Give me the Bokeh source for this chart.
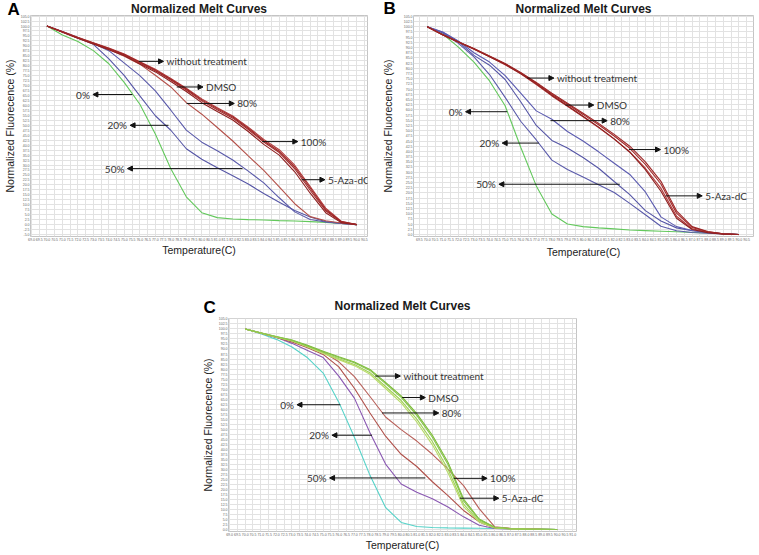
from bokeh.plotting import figure
from bokeh.models import (Arrow, NormalHead, Label, FixedTicker, Range1d, Spacer,
                          NumeralTickFormatter, Title)
from bokeh.layouts import column, row
from bokeh.embed import file_html
from bokeh.resources import INLINE

# ---------------- data ----------------
temperature = [70, 71, 72, 73, 74, 75, 76, 77, 78, 79, 80,
               81, 82, 83, 84, 85, 86, 87, 88, 89, 90]
x_ticks = [69 + 0.5 * i for i in range(45)]
y_ticks = [-5 + 2.5 * i for i in range(45)]
title_text = "Normalized Melt Curves"
x_title = "Temperature(C)"
y_title = "Normalized Fluorecence (%)"

# Panel A
a_zero = [100, 95.5, 92.2, 87.6, 81.0, 71.5, 60.6, 45.6, 28.1, 14.0, 6.0, 3.5, 2.8, 2.5, 2.3, 2.0, 1.8, 1.5, 1.1, 0.6, 0.0]
a_twenty = [100, 97.1, 94.0, 90.8, 83.5, 75.0, 64.8, 54.8, 47.5, 38.2, 32.9, 28.6, 24.6, 20.4, 15.7, 11.2, 7.1, 3.8, 1.5, 0.6, 0.0]
a_fifty = [100, 97.2, 94.2, 91.2, 87.6, 81.3, 75.0, 67.3, 57.6, 47.6, 41.5, 37.2, 32.5, 26.9, 21.0, 13.5, 6.4, 2.6, 1.3, 0.6, 0.0]
a_eighty = [100, 97.0, 93.9, 91.0, 88.2, 84.8, 80.8, 75.2, 69.3, 61.4, 55.6, 48.9, 42.1, 34.6, 27.3, 19.0, 10.5, 4.0, 1.9, 0.8, 0.0]
a_without = [100, 97.0, 94.0, 91.3, 88.5, 85.4, 81.4, 77.5, 72.8, 67.8, 62.3, 57.8, 53.6, 47.9, 41.6, 36.3, 28.1, 17.3, 7.0, 1.3, 0.0]
a_dmso = [100, 97.2, 94.3, 91.6, 88.9, 85.9, 82.0, 78.2, 73.6, 68.7, 63.3, 58.8, 54.7, 49.1, 42.9, 37.7, 29.9, 19.1, 8.3, 1.7, 0.0]
a_hundred = [100, 96.9, 93.8, 91.0, 88.1, 85.0, 80.9, 76.9, 72.1, 67.0, 61.4, 57.0, 52.7, 46.9, 40.4, 35.0, 26.6, 15.8, 6.0, 1.0, 0.0]
a_aza = [100, 97.1, 94.1, 91.4, 88.7, 85.6, 81.7, 77.8, 73.2, 68.3, 62.8, 58.4, 54.2, 48.5, 42.2, 36.9, 29.0, 18.3, 7.6, 1.5, 0.0]

# Panel B
b_zero = [100, 96.5, 90.2, 83.0, 73.9, 62.0, 42.0, 23.4, 9.9, 5.1, 3.8, 3.2, 2.7, 2.2, 1.9, 1.6, 1.3, 1.0, 0.7, 0.4, 0.0]
b_twenty = [100, 97.0, 92.0, 85.5, 77.0, 66.0, 54.5, 45.5, 35.8, 31.3, 27.7, 24.0, 20.2, 15.0, 9.5, 4.0, 1.8, 1.0, 0.6, 0.3, 0.0]
b_fifty = [100, 97.3, 92.8, 86.2, 81.5, 74.6, 63.9, 52.5, 45.3, 41.6, 37.1, 31.9, 25.5, 19.2, 11.5, 6.5, 3.2, 1.8, 1.0, 0.4, 0.0]
b_eighty = [100, 97.5, 93.2, 87.5, 83.0, 76.5, 68.0, 59.5, 55.5, 49.6, 45.0, 39.8, 34.3, 28.9, 20.5, 8.5, 3.8, 1.9, 1.0, 0.4, 0.0]
b_without = [100, 96.1, 92.7, 89.4, 85.8, 82.1, 77.8, 72.9, 67.5, 62.7, 57.8, 52.8, 47.4, 41.5, 33.8, 24.3, 10.3, 3.4, 1.3, 0.3, 0.0]
b_dmso = [100, 96.0, 92.5, 89.2, 85.5, 81.7, 77.3, 72.2, 66.7, 61.7, 56.6, 51.5, 45.9, 39.8, 31.9, 22.2, 8.8, 2.8, 1.1, 0.3, 0.0]
b_hundred = [100, 96.0, 92.6, 89.3, 85.6, 81.9, 77.5, 72.5, 67.0, 62.0, 56.9, 51.7, 46.0, 39.6, 31.2, 20.8, 7.8, 2.4, 0.9, 0.2, 0.0]
b_aza = [100, 96.2, 92.8, 89.5, 85.9, 82.3, 78.0, 73.2, 68.0, 63.2, 58.4, 53.5, 48.2, 42.5, 35.0, 25.6, 11.4, 3.8, 1.4, 0.4, 0.0]

# Panel C
c_zero = [100, 97.6, 94.8, 91.0, 85.6, 78.0, 63.5, 46.0, 27.0, 11.0, 3.5, 1.5, 1.0, 0.8, 0.7, 0.6, 0.5, 0.4, 0.3, 0.2, 0.0]
c_twenty = [100, 98.0, 95.8, 92.8, 89.3, 85.7, 76.5, 65.5, 48.2, 32.6, 22.7, 18.6, 15.3, 11.2, 6.3, 2.1, 0.5, 0.3, 0.2, 0.1, 0.0]
c_fifty = [100, 97.9, 95.7, 93.5, 90.6, 87.3, 81.1, 70.4, 58.1, 46.5, 37.5, 31.4, 23.8, 16.9, 9.5, 3.8, 0.8, 0.4, 0.2, 0.1, 0.0]
c_eighty = [100, 98.0, 95.9, 94.0, 91.6, 88.5, 83.6, 76.2, 66.3, 56.1, 49.8, 44.1, 37.5, 30.1, 21.9, 10.4, 1.3, 0.6, 0.3, 0.1, 0.0]
c_without = [100, 98.1, 96.2, 94.5, 91.8, 88.9, 86.1, 83.5, 79.8, 73.3, 66.6, 57.8, 47.0, 33.5, 15.2, 5.2, 1.1, 0.4, 0.2, 0.1, 0.0]
c_dmso = [100, 98.0, 96.0, 94.1, 91.2, 88.1, 85.1, 82.3, 78.2, 71.3, 64.3, 55.0, 43.9, 30.0, 12.6, 4.2, 0.9, 0.4, 0.2, 0.1, 0.0]
c_hundred = [100, 97.9, 95.9, 94.0, 91.0, 87.8, 84.7, 81.7, 77.4, 70.3, 63.1, 53.6, 42.2, 28.3, 11.4, 3.8, 0.8, 0.3, 0.2, 0.1, 0.0]
c_aza = [100, 98.0, 96.1, 94.3, 91.5, 88.6, 85.8, 83.1, 79.3, 72.7, 65.9, 56.9, 46.0, 32.4, 14.3, 4.9, 1.0, 0.4, 0.2, 0.1, 0.0]

# arrow annotations: (text, tail temperature, level %, head temperature)
a_arrows = [("without treatment", 75.94, 82.2, 77.53), ("DMSO", 78.38, 69.3, 80.08),
            ("80%", 79.02, 61.0, 82.10), ("100%", 83.90, 41.8, 86.20),
            ("5-Aza-dC", 86.45, 22.6, 87.95), ("0%", 75.52, 65.5, 72.97),
            ("20%", 77.85, 50.0, 75.37), ("50%", 82.63, 28.2, 75.20)]
b_arrows = [("without treatment", 76.42, 75.3, 78.13), ("DMSO", 78.88, 62.3, 80.69),
            ("80%", 77.91, 54.8, 81.55), ("100%", 82.94, 40.9, 84.97),
            ("5-Aza-dC", 85.30, 18.6, 87.65), ("0%", 75.13, 59.1, 72.46),
            ("20%", 77.16, 44.0, 74.81), ("50%", 82.36, 24.2, 74.60)]
c_arrows = [("without treatment", 78.34, 76.5, 79.95), ("DMSO", 80.06, 65.8, 81.55),
            ("80%", 78.77, 58.1, 82.41), ("100%", 83.37, 25.5, 85.51),
            ("5-Aza-dC", 83.76, 15.6, 86.26), ("0%", 76.10, 62.2, 73.32),
            ("20%", 78.13, 47.0, 75.56), ("50%", 81.55, 25.7, 75.41)]


def panel(letter, x_rng, y_rng, curves, arrows, width, height, borders,
          letter_dx, title_gap, letter_gap, xlab_gap, ylab_gap):
    bl, br, bt, bb = borders
    p = figure(width=width, height=height, x_range=Range1d(*x_rng), y_range=Range1d(*y_rng),
               output_backend="svg", toolbar_location=None, tools="", title=None,
               min_border_left=bl, min_border_right=br, min_border_top=bt, min_border_bottom=bb,
               background_fill_color="white", border_fill_color="white")
    main = Title(text=title_text, align="center", text_font="Liberation Sans",
                 text_font_size="12px", text_font_style="bold", text_color="#1a1a1a",
                 standoff=title_gap)
    p.add_layout(main, "above")
    tag = Title(text=letter, align="left", offset=letter_dx, vertical_align="bottom",
                text_font="Liberation Sans", text_font_size="17px", text_font_style="bold",
                text_color="#000000", standoff=letter_gap)
    p.add_layout(tag, "above")
    p.outline_line_color = "#c4c4c4"

    for ax, ticks, lab, gap in ((p.xaxis[0], x_ticks, x_title, xlab_gap),
                                (p.yaxis[0], y_ticks, y_title, ylab_gap)):
        ax.ticker = FixedTicker(ticks=ticks)
        ax.formatter = NumeralTickFormatter(format="0.0")
        ax.axis_label = lab
        ax.axis_label_text_font = "Liberation Sans"
        ax.axis_label_text_font_size = "10.5px"
        ax.axis_label_text_font_style = "normal"
        ax.axis_label_text_color = "#222222"
        ax.axis_label_standoff = gap
        ax.major_label_text_font = "Liberation Sans"
        ax.major_label_text_font_size = "3.5px"
        ax.major_label_text_color = "#666666"
        ax.major_label_standoff = 1
        ax.major_tick_line_color = None
        ax.minor_tick_line_color = None
        ax.major_tick_out = 0
        ax.major_tick_in = 0
        ax.minor_tick_out = 0
        ax.minor_tick_in = 0
        ax.axis_line_color = None
    for g, ticks in ((p.xgrid[0], x_ticks), (p.ygrid[0], y_ticks)):
        g.ticker = FixedTicker(ticks=ticks)
        g.grid_line_color = "#e2e2e2"
        g.grid_line_width = 1

    for ys, color in curves:
        p.line(temperature, ys, line_color=color, line_width=1.1)

    for text, tail, lev, head in arrows:
        p.add_layout(Arrow(end=NormalHead(size=5, fill_color="#111111", line_color="#111111",
                                          line_width=1),
                           x_start=tail, y_start=lev, x_end=head, y_end=lev,
                           line_color="#111111", line_width=1))
        right = head > tail
        p.add_layout(Label(x=head, y=lev, text=text,
                           text_align="left" if right else "right",
                           x_offset=3 if right else -3, text_baseline="middle",
                           text_font="Lato", text_font_size="10px", text_color="#333333"))
    return p


red_bundle = ["#a52a2a", "#b23a3a", "#8e1f1f", "#9c2626"]
curves_a = [(a_zero, "#63c85c"), (a_twenty, "#5656a6"), (a_fifty, "#5a5aaa"),
            (a_eighty, "#b4514a"), (a_without, red_bundle[0]), (a_dmso, red_bundle[1]),
            (a_hundred, red_bundle[2]), (a_aza, red_bundle[3])]
curves_b = [(b_zero, "#63c85c"), (b_twenty, "#5a5aaa"), (b_fifty, "#5656a6"),
            (b_eighty, "#5b5bb0"), (b_without, red_bundle[0]), (b_dmso, red_bundle[1]),
            (b_hundred, red_bundle[2]), (b_aza, red_bundle[3])]
curves_c = [(c_zero, "#55d2c8"), (c_twenty, "#8a58b2"), (c_fifty, "#b0504a"),
            (c_eighty, "#b8605a"), (c_without, "#7cbb3a"), (c_dmso, "#9fd255"),
            (c_hundred, "#b9db6a"), (c_aza, "#88c44a")]

pA = panel("A", (68.94, 90.70), (-6.0, 105.3), curves_a, a_arrows, 378, 268,
           (25, 11, 14, 32), -23, -1, -37, 0, 2)
pB = panel("B", (69.12, 90.94), (-0.95, 105.4), curves_b, b_arrows, 377, 268,
           (35, 2, 13, 32), -30, -1, -35, 2, 7)
pC = panel("C", (68.93, 91.24), (-1.0, 105.2), curves_c, c_arrows, 390, 285,
           (38, 4, 50, 17), -25, 12, -53, 0, 2)

layout = column(row(pA, pB), row(Spacer(width=190, height=285), pC))
open("out.html", "w").write(file_html(layout, INLINE))
